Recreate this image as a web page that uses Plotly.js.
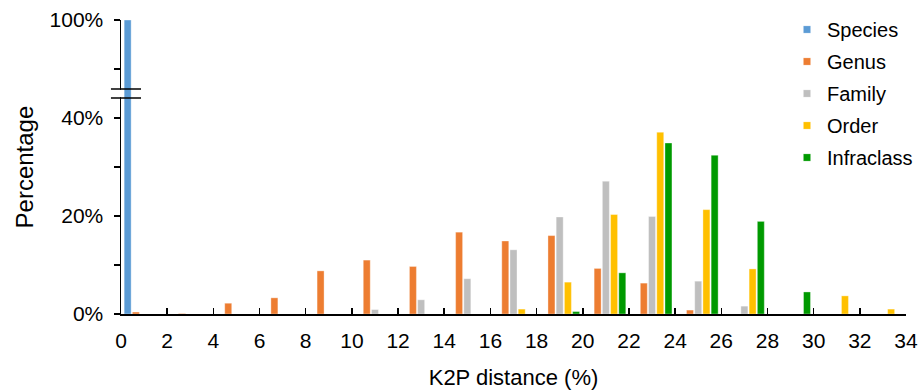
<!DOCTYPE html>
<html>
<head>
<meta charset="utf-8">
<script src="https://cdn.plot.ly/plotly-3.0.1.min.js"></script>
<style>html,body{margin:0;padding:0;background:#fff;}#chart{width:920px;height:390px;}</style>
</head>
<body>
<div id="chart"></div>
<script>
// Bin centers of K2P distance classes (0-2, 2-4, ... 32-34)
const binCenters = [1,3,5,7,9,11,13,15,17,19,21,23,25,27,29,31,33];
const xTickVals = [0,2,4,6,8,10,12,14,16,18,20,22,24,26,28,30,32,34];
const seriesNames = ['Species','Genus','Family','Order','Infraclass'];
const species    = [100,null,null,null,null,null,null,null,null,null,null,null,null,null,null,null,null];
const genus      = [0.4,0.1,2.2,3.3,8.8,11.0,9.7,16.7,14.9,16.0,9.3,6.3,0.8,null,null,null,null];
const family     = [null,null,null,null,null,0.9,2.9,7.2,13.1,19.8,27.1,19.9,6.7,1.6,null,null,null];
const order      = [null,null,null,null,null,null,null,null,1.0,6.5,20.3,37.1,21.3,9.2,null,3.7,1.0];
const infraclass = [null,null,null,null,null,null,null,null,null,0.5,8.4,34.9,32.4,18.9,4.5,null,null];
const lowerTicks = [0,10,20,30,40];
const lowerTickText = ['0%','','20%','','40%'];
const upperTicks = [90,100];
const upperTickText = ['','100%'];

const colors = ['#5B9BD5','#ED7D31','#BFBFBF','#FFC000','#009A00'];
const allSeries = [species, genus, family, order, infraclass];

// grouped bar geometry in data units
const binW = 2, gap = 0.11, groupGap = 0.15;
const slot = binW*(1-gap)/5;
const barW = slot*(1-groupGap);
function offsetFor(i){ return -binW*(1-gap)/2 + i*slot + (slot-barW)/2; }

const traces = [];
allSeries.forEach((vals,i)=>{
  traces.push({
    type:'bar', x:binCenters, y:vals, name:seriesNames[i],
    width:barW, offset:offsetFor(i),
    marker:{color:colors[i], line:{color:'rgba(255,255,255,0.7)', width:0.5}},
    xaxis:'x', yaxis:'y', legendgroup:'g'+i, hoverinfo:'x+y'
  });
});
// species continues on the upper (broken) axis
traces.push({
  type:'bar', x:binCenters, y:species, name:'Species', showlegend:false,
  width:barW, offset:offsetFor(0),
  marker:{color:colors[0], line:{color:'rgba(255,255,255,0.7)', width:0.5}},
  xaxis:'x', yaxis:'y2', legendgroup:'g0'
});

const fontFam = '"Liberation Sans", Arial, sans-serif';
const plotTop = 20, plotBottom = 314, H = plotBottom-plotTop;
const splitPx = 94;
const lowerDomTop = (plotBottom-splitPx)/H;
const pxPerUnit = 4.9;
const lowerMax = (plotBottom-splitPx)/pxPerUnit;
const upperMin = 100 - (splitPx-plotTop)/pxPerUnit;
const brk1 = (plotBottom-89)/H, brk2 = (plotBottom-98)/H;

const layout = {
  width:920, height:390,
  margin:{l:121, r:14, t:plotTop, b:390-plotBottom},
  paper_bgcolor:'#fff', plot_bgcolor:'#fff',
  barmode:'overlay', showlegend:true,
  font:{family:fontFam, color:'#000', size:21},
  xaxis:{
    range:[0,34], tickvals:xTickVals, ticks:'inside', ticklen:6, tickwidth:1.5, tickcolor:'#000',
    showline:true, linecolor:'#000', linewidth:1.5, showgrid:false, zeroline:false,
    tickfont:{size:21, family:fontFam}, anchor:'y', ticklabelstandoff:7, automargin:false,
    title:{text:'K2P distance (%)', font:{size:22, family:fontFam}, standoff:22}
  },
  yaxis:{
    domain:[0, lowerDomTop], range:[0, lowerMax], tickvals:lowerTicks, ticktext:lowerTickText,
    ticks:'outside', ticklen:6, tickwidth:1.5, tickcolor:'#000',
    showline:true, linecolor:'#000', linewidth:1.5, showgrid:false, zeroline:false,
    tickfont:{size:21, family:fontFam}, anchor:'x', ticklabelstandoff:6, automargin:false
  },
  yaxis2:{
    domain:[lowerDomTop, 1], range:[upperMin, 100], tickvals:upperTicks, ticktext:upperTickText,
    ticks:'outside', ticklen:6, tickwidth:1.5, tickcolor:'#000',
    showline:true, linecolor:'#000', linewidth:1.5, showgrid:false, zeroline:false,
    tickfont:{size:21, family:fontFam}, anchor:'x', ticklabelstandoff:6, automargin:false
  },
  annotations:[
    {text:'Percentage', xref:'paper', yref:'paper', x:-0.123, y:0.5, xanchor:'center', yanchor:'middle',
     textangle:-90, showarrow:false, font:{size:24, family:fontFam, color:'#000'}}
  ],
  legend:{
    x:0.98, y:1.0, xanchor:'right', yanchor:'top',
    font:{size:20, family:fontFam}, tracegroupgap:3, bgcolor:'rgba(0,0,0,0)'
  },
  shapes:[
    {type:'line', xref:'paper', yref:'paper', x0:0, x1:0, y0:brk2+0.003, y1:brk1-0.003, line:{color:'#fff', width:4}},
    {type:'line', xref:'paper', yref:'paper', x0:-0.0128, x1:0.0255, y0:brk1, y1:brk1, line:{color:'#000', width:1.5}},
    {type:'line', xref:'paper', yref:'paper', x0:-0.0128, x1:0.0255, y0:brk2, y1:brk2, line:{color:'#000', width:1.5}}
  ]
};

Plotly.newPlot('chart', traces, layout, {displayModeBar:false, staticPlot:true}).then(()=>{
  const leg = document.querySelector('.infolayer .legend');
  const syms = leg.querySelectorAll('.legendpoints path');
  syms.forEach(p=>{
    const t = p.getAttribute('transform') || '';
    p.setAttribute('transform', t + ' scale(0.6)');
  });
  // fine placement of the legend block (symbol of first entry centred at 807, 29)
  const r = syms[0].getBoundingClientRect();
  const dx = 807 - (r.left + r.right)/2;
  const dy = 29.5 - (r.top + r.bottom)/2;
  const m = /translate\(\s*([-\d.eE]+)[ ,]+([-\d.eE]+)\s*\)/.exec(leg.getAttribute('transform') || '');
  if (m) leg.setAttribute('transform', 'translate(' + (+m[1] + dx) + ',' + (+m[2] + dy) + ')');
  const bg = leg.querySelector('.bg');
  if (bg) bg.style.display = 'none';
  const sc = leg.querySelector('.scrollbox');
  if (sc) sc.removeAttribute('clip-path');
});
</script>
</body>
</html>
